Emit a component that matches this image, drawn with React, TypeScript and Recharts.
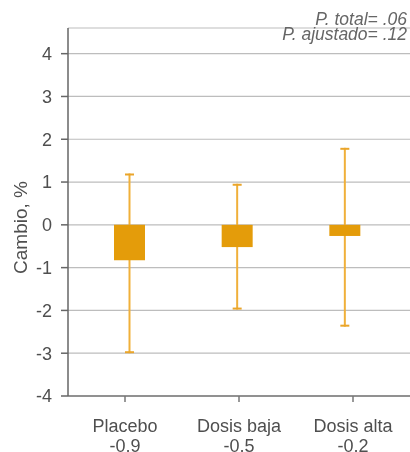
import React from 'react';
import { ComposedChart, Bar, XAxis, YAxis, CartesianGrid, Customized } from 'recharts';

const categories = ['Placebo', 'Dosis baja', 'Dosis alta'];
const meanLabels = ['-0,9', '-0,5', '-0,2'];
const changeValues = [-0.83, -0.52, -0.26];
const errorLow = [-3.0, -1.98, -2.38];
const errorHigh = [1.2, 0.96, 1.8];
const yTicks = [-4, -3, -2, -1, 0, 1, 2, 3, 4];
const annotations = ['P. total= .06', 'P. ajustado= .12'];
const yLabel = 'Cambio, %';

const data = categories.map((name, i) => ({
  name,
  sub: meanLabels[i],
  value: changeValues[i],
  range: [errorLow[i], errorHigh[i]],
}));

const FONT = '"Liberation Sans", Arial, Helvetica, sans-serif';
const TEXT = '#4f4f4f';
const BAR = '#E49C0A';
const ERR = '#F0B03A';

const ErrShape = (props: any) => {
  const { x, y, width, height } = props;
  const cx = x + width / 2;
  const top = Math.min(y, y + height);
  const bot = Math.max(y, y + height);
  return (
    <g>
      <line x1={cx} x2={cx} y1={top} y2={bot} stroke={ERR} strokeWidth={2} />
      <line x1={x} x2={x + width} y1={top + 1} y2={top + 1} stroke="#EAA52A" strokeWidth={2} />
      <line x1={x} x2={x + width} y1={bot - 1} y2={bot - 1} stroke="#EAA52A" strokeWidth={2} />
    </g>
  );
};

const XTick = (props: any) => {
  const { x, y, payload, index } = props;
  const d = data.find((e) => e.name === payload.value) || data[index];
  return (
    <text x={x} textAnchor="middle" fontFamily={FONT} fontSize={18} fill={TEXT}>
      <tspan x={x} y={y + 27.5}>{payload.value}</tspan>
      <tspan x={x} y={y + 48}>{d ? d.sub : ''}</tspan>
    </text>
  );
};

const Overlay = () => (
  <g>
    <text
      transform="translate(18.7,219.5) rotate(-90)"
      textAnchor="middle"
      fontFamily={FONT}
      fontSize={19}
      fill={TEXT}
    >
      {yLabel}
    </text>
    {annotations.map((t, i) => (
      <text
        key={t}
        x={399}
        y={17 + i * 14.8}
        textAnchor="end"
        fontFamily={FONT}
        fontSize={17.5}
        fontStyle="italic"
        fill="#666666"
      >
        {t}
      </text>
    ))}
  </g>
);

export default function App() {
  return (
    <div style={{ position: 'fixed', left: 8, top: 8, width: 402, height: 444, overflow: 'hidden' }}>
      <ComposedChart
        width={402}
        height={444}
        data={data}
        margin={{ top: 20, right: 0, bottom: 0, left: 0 }}
        barCategoryGap={0}
      >
        <CartesianGrid xAxisId="lab" vertical={false} stroke="#bdbdbd" strokeWidth={1.2} />
        <XAxis
          xAxisId="lab"
          dataKey="name"
          height={56}
          tickSize={6}
          tickMargin={2}
          axisLine={{ stroke: '#777777', strokeWidth: 1.5 }}
          tickLine={{ stroke: '#777777', strokeWidth: 1.5 }}
          tick={<XTick />}
          interval={0}
        />
        <XAxis xAxisId="err" dataKey="name" hide height={0} padding={{ left: 8, right: 11 }} />
        <XAxis xAxisId="bars" dataKey="name" hide height={0} padding={{ left: 8, right: 11 }} />
        <YAxis
          type="number"
          domain={[-4, 4.6]}
          ticks={yTicks}
          allowDataOverflow
          width={60}
          tickSize={7}
          tickMargin={9}
          axisLine={{ stroke: '#666666', strokeWidth: 1.5 }}
          tickLine={{ stroke: '#666666', strokeWidth: 1.5 }}
          tick={{ fill: TEXT, fontSize: 18, fontFamily: FONT }}
        />
        <Bar
          xAxisId="err"
          dataKey="range"
          barSize={9}
          fill="none"
          shape={<ErrShape />}
          isAnimationActive={false}
        />
        <Bar xAxisId="bars" dataKey="value" barSize={31} fill={BAR} isAnimationActive={false} />
        <Customized component={<Overlay />} />
      </ComposedChart>
    </div>
  );
}
